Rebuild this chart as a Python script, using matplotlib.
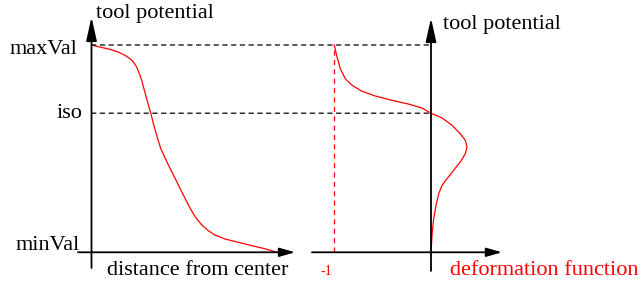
import matplotlib
matplotlib.use('Agg')
import matplotlib.pyplot as plt
from matplotlib.patches import ConnectionPatch

plt.rcParams['font.family'] = ['Liberation Serif', 'DejaVu Serif']

# potential levels (normalised: minVal = 0, maxVal = 1)
min_val = 0.0
max_val = 1.0
iso_val = 0.671
deform_min = -1.0

# tool potential vs. distance from center
dist = [0.0, 0.046, 0.100, 0.145, 0.181, 0.208, 0.226, 0.244, 0.258, 0.271,
        0.283, 0.298, 0.310, 0.321, 0.334, 0.352, 0.374, 0.415, 0.451, 0.487,
        0.523, 0.559, 0.595, 0.631, 0.667, 0.721, 0.793, 0.865, 0.937, 1.0]
pot_left = [1.0, 0.990, 0.979, 0.966, 0.950, 0.934, 0.918, 0.894, 0.862, 0.830,
            0.789, 0.741, 0.701, 0.669, 0.620, 0.564, 0.500, 0.421, 0.357, 0.292,
            0.228, 0.172, 0.132, 0.104, 0.083, 0.064, 0.048, 0.032, 0.017, 0.0]

# deformation function vs. tool potential
deform = [-1.0, -0.972, -0.938, -0.886, -0.817, -0.714, -0.576, -0.403, -0.231, -0.093,
          0.0, 0.114, 0.217, 0.303, 0.355, 0.372, 0.355, 0.303, 0.235, 0.165,
          0.114, 0.080, 0.052, 0.028, 0.013, 0.0]
pot_right = [1.0, 0.942, 0.886, 0.837, 0.806, 0.777, 0.754, 0.733, 0.715, 0.696,
             0.671, 0.648, 0.613, 0.572, 0.540, 0.508, 0.476, 0.436, 0.396, 0.355,
             0.323, 0.283, 0.227, 0.162, 0.098, 0.0]

fig = plt.figure(figsize=(6.42, 2.86), dpi=100)
ax1 = fig.add_axes([0, 0, 1, 1])
ax2 = fig.add_axes([0, 0, 1, 1])
ax2.patch.set_visible(False)
for ax in (ax1, ax2):
    ax.set_ylim(-0.1626, 1.2171)
    ax.axis('off')
ax1.set_xlim(-0.494, 2.972)
ax2.set_xlim(-4.457, 2.182)

fs = 16


def axis_arrow(ax, start, tip, hl, hw):
    ax.annotate('', xy=tip, xytext=start,
                arrowprops=dict(arrowstyle='-|>,head_length=%g,head_width=%g' % (hl, hw),
                                lw=1.3, color='black', shrinkA=0, shrinkB=0,
                                mutation_scale=10))


# left panel axes
axis_arrow(ax1, (0, -0.076), (0, 1.135), 1.44, 0.32)
axis_arrow(ax1, (-0.073, min_val), (1.099, min_val), 0.94, 0.27)
# right panel axes
axis_arrow(ax2, (0, -0.090), (0, 1.130), 1.44, 0.32)
axis_arrow(ax2, (-1.231, min_val), (0.734, min_val), 0.94, 0.27)

# dashed level lines from left axis to right axis
for lvl in (max_val, iso_val):
    con = ConnectionPatch(xyA=(0, lvl), coordsA=ax1.transData,
                          xyB=(0, lvl), coordsB=ax2.transData,
                          linestyle=(0, (3.5, 3.5)), lw=0.9, color='black')
    fig.add_artist(con)

ax2.plot([deform_min, deform_min], [min_val, max_val], color='red',
         linestyle=(0, (4, 3.5)), lw=0.9)

ax1.plot(dist, pot_left, color='red', lw=0.9)
ax2.plot(deform, pot_right, color='red', lw=0.9)

# labels
ax1.text(0.024, 1.130, 'tool potential', fontsize=fs, ha='left', va='baseline')
ax1.text(-0.078, 0.957, 'maxVal', fontsize=fs, ha='right', va='baseline')
ax1.text(-0.051, 0.647, 'iso', fontsize=fs, ha='right', va='baseline')
ax1.text(-0.062, 0.011, 'minVal', fontsize=fs, ha='right', va='baseline')
ax1.text(0.084, -0.108, 'distance from center', fontsize=fs, ha='left', va='baseline')

ax2.text(0.124, 1.076, 'tool potential', fontsize=fs, ha='left', va='baseline')
ax2.text(0.196, -0.111, 'deformation function', fontsize=fs, color='red',
         ha='left', va='baseline')
ax2.text(-1.02, -0.110, '-1', fontsize=10, color='red', ha='right', va='baseline')

fig.savefig('out.png', dpi=100)
